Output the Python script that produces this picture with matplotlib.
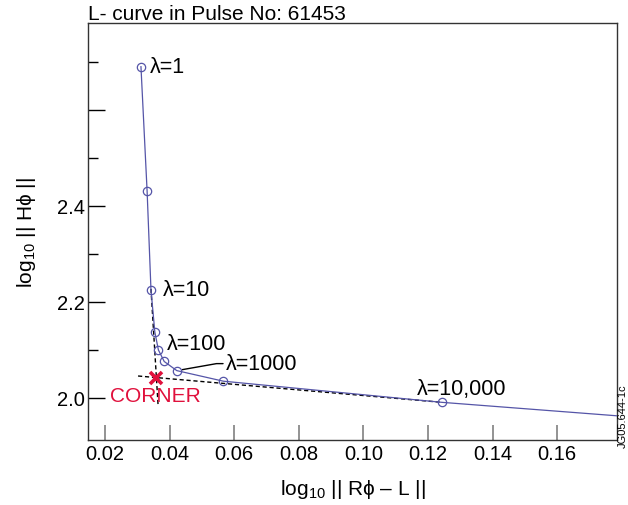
import matplotlib
matplotlib.use("Agg")
import matplotlib.pyplot as plt
from matplotlib.ticker import FixedLocator

plt.rcParams['font.family'] = ['Liberation Sans', 'DejaVu Sans']
plt.rcParams['mathtext.fontset'] = 'custom'
plt.rcParams['mathtext.rm'] = 'Liberation Sans'
plt.rcParams['mathtext.it'] = 'Liberation Sans'

# L-curve data (lambda = 1, 3, 10, 30, 100, 300, 1000, 3000, 10000, beyond)
residual = [0.0311, 0.0330, 0.0342, 0.0354, 0.0365, 0.0383, 0.0422, 0.0566, 0.1242, 0.30]
solution = [2.690, 2.431, 2.225, 2.137, 2.100, 2.076, 2.057, 2.035, 1.991, 1.900]
labels = {0: "λ=1", 2: "λ=10", 4: "λ=100", 6: "λ=1000", 8: "λ=10,000"}
label_offsets = {0: (9, 0), 2: (12, 0), 4: (8, 6), 6: (49, 7), 8: (-25, 14)}

# tangent lines and corner
tan1_x = [0.0342, 0.0364]
tan1_y = [2.227, 1.985]
tan2_x = [0.0302, 0.1242]
tan2_y = [2.0458, 1.991]
corner_x = 0.0358
corner_y = 2.0417

xticks = [0.02, 0.04, 0.06, 0.08, 0.10, 0.12, 0.14, 0.16]
yticks = [2.0, 2.2, 2.4, 2.6]
ytick_labels = ["2.0", "2.2", "2.4", ""]
yminor = [1.9, 2.1, 2.3, 2.5, 2.7]

fig = plt.figure(figsize=(6.28, 5.06), dpi=100)
ax = fig.add_axes([88/628, 1-441/506, (617-88)/628, (441-24)/506])

line_col = '#5555a8'
ax.plot(residual, solution, '-', color=line_col, lw=0.9, zorder=3)
ax.plot(residual, solution, 'o', mfc='none', mec=line_col, ms=6, mew=0.9, zorder=4)

ax.plot(tan1_x, tan1_y, '--', color='black', lw=1.0, dashes=(3, 2), zorder=2)
ax.plot(tan2_x, tan2_y, '--', color='black', lw=1.0, dashes=(3, 2), zorder=2)
ax.plot([corner_x], [corner_y], 'x', color='#e0103c', ms=9, mew=2.6, zorder=5)

ax.annotate("CORNER", (corner_x, corner_y), xytext=(-46, -18), textcoords='offset pixels',
            ha='left', va='center', fontsize=15, color='#e0103c')

for i, txt in labels.items():
    dx, dy = label_offsets[i]
    if i == 6:
        ax.annotate(txt, (residual[i], solution[i]), xytext=(dx, dy), textcoords='offset pixels',
                    ha='left', va='center', fontsize=15.5,
                    arrowprops=dict(arrowstyle='-', color='black', lw=1.0,
                                    relpos=(0, 0.5), shrinkA=0, shrinkB=4,
                                    connectionstyle="angle,angleA=0,angleB=10,rad=0"))
    else:
        ax.annotate(txt, (residual[i], solution[i]), xytext=(dx, dy), textcoords='offset pixels',
                    ha='left', va='center', fontsize=15.5)

ax.set_xlim(0.0147, 0.1785)
ax.set_ylim(1.9125, 2.781)

ax.set_xticks(xticks)
ax.set_xticklabels([f"{v:.2f}" for v in xticks])
ax.set_yticks(yticks)
ax.set_yticklabels(ytick_labels)
ax.yaxis.set_minor_locator(FixedLocator(yminor))

ax.tick_params(axis='both', which='major', direction='in', labelsize=14.5)
ax.tick_params(axis='x', which='major', length=11, width=1.2, color='#808080', pad=3)
ax.tick_params(axis='y', which='major', length=12, width=1.0, color='black', pad=2)
ax.tick_params(axis='y', which='minor', direction='in', length=7, width=1.0, color='black')
ax.xaxis.get_major_ticks()[-1].tick1line.set_color('black')

for s in ax.spines.values():
    s.set_linewidth(1.0)
    s.set_color('#333333')

ax.set_title("L- curve in Pulse No: 61453", loc='left', fontsize=15, pad=3)
ax.set_xlabel("log$_{10}$ || Rϕ – L ||", fontsize=15, labelpad=10)
ax.set_ylabel("log$_{10}$ || Hϕ ||", fontsize=15, labelpad=14)

fig.text(1.0, 1-448/506, "JG05.644-1c", rotation=90, fontsize=8, ha='right', va='bottom')

fig.savefig("out.png", dpi=100)
